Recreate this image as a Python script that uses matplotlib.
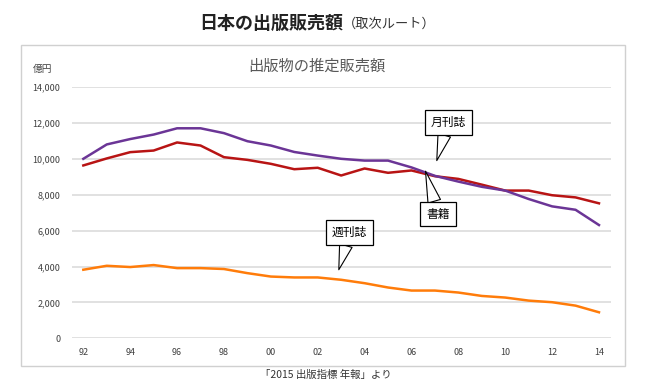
import matplotlib
matplotlib.use("Agg")
from matplotlib import pyplot as plt
from matplotlib.patches import Rectangle
import numpy as np

plt.rcParams['font.family'] = ['Noto Sans CJK JP', 'DejaVu Sans']

# データ (億円)
years = list(range(1992, 2015))
gekkanshi = [10000, 10800, 11100, 11350, 11700, 11700, 11430, 10980, 10740, 10380, 10180, 10000,
             9900, 9900, 9520, 9050, 8730, 8440, 8230, 7760, 7350, 7160, 6310]
shoseki = [9630, 10020, 10370, 10460, 10910, 10740, 10090, 9940, 9720, 9420, 9500, 9070,
           9460, 9220, 9350, 9030, 8880, 8560, 8230, 8230, 7970, 7850, 7520]
shukanshi = [3820, 4040, 3970, 4080, 3910, 3910, 3860, 3630, 3440, 3390, 3390, 3260,
             3070, 2830, 2660, 2660, 2550, 2360, 2270, 2100, 2010, 1820, 1450]
y_ticks = [0, 2000, 4000, 6000, 8000, 10000, 12000, 14000]
x_labels = [f"{y % 100:02d}" for y in years]

W, H = 645, 387
fig = plt.figure(figsize=(W / 100, H / 100), dpi=100)

# 外枠
fig.patches.append(Rectangle((21 / W, 1 - 366 / H), (625 - 21) / W, (366 - 45) / H,
                             transform=fig.transFigure, fill=False, ec='#d0d0d0', lw=1))

ax = fig.add_axes([71.6 / W, 1 - 338.3 / H, (610.7 - 71.6) / W, (338.3 - 87) / H])
x = np.arange(len(years))
ax.plot(x, shukanshi, color='#ff7c0a', lw=1.8, zorder=3)
ax.plot(x, shoseki, color='#b81414', lw=1.8, zorder=3)
ax.plot(x, gekkanshi, color='#6b3596', lw=1.8, zorder=4)

ax.set_xlim(-0.5, len(years) - 0.5)
ax.set_ylim(0, 14000)
ax.set_yticks(y_ticks)
ax.set_yticklabels([f"{v:,}" for v in y_ticks])
ax.set_xticks(x[::2])
ax.set_xticklabels(x_labels[::2])
ax.tick_params(length=0, labelsize=6.5, labelcolor='#404040')
ax.tick_params(axis='y', pad=8)
ax.tick_params(axis='x', pad=7)
ax.grid(axis='y', color='#d9d9d9', lw=1.1)
ax.set_axisbelow(True)
for s in ax.spines.values():
    s.set_visible(False)

# 吹き出し
def callout(text, tip, box):
    ax.annotate(text, xy=tip, xytext=box, ha='center', va='center', fontsize=8.5, zorder=6,
                bbox=dict(boxstyle='square,pad=0.5', fc='white', ec='black', lw=0.9),
                arrowprops=dict(arrowstyle='wedge,tail_width=1.1', fc='white', ec='black',
                                lw=0.8, shrinkA=0, shrinkB=0))

callout('月刊誌', (15.08, 9900), (15.56, 12030))
callout('書籍', (14.6, 9310), (15.13, 6920))
callout('週刊誌', (10.9, 3820), (11.36, 5880))

# テキスト
fig.text(343 / W, 1 - 23 / H, '日本の出版販売額', ha='right', va='center',
         fontsize=13, fontweight='bold', color='#222222')
fig.text(343 / W, 1 - 24 / H, '（取次ルート）', ha='left', va='center',
         fontsize=9.5, color='#333333')
fig.text(317 / W, 1 - 66.7 / H, '出版物の推定販売額', ha='center', va='center',
         fontsize=11, color='#595959')
fig.text(43 / W, 1 - 69 / H, '億円', ha='center', va='center', fontsize=7, color='#404040')
fig.text(326 / W, 1 - 375 / H, '「2015 出版指標 年報」より', ha='center', va='center',
         fontsize=7.5, color='#333333')

fig.savefig('out.png', dpi=100)
